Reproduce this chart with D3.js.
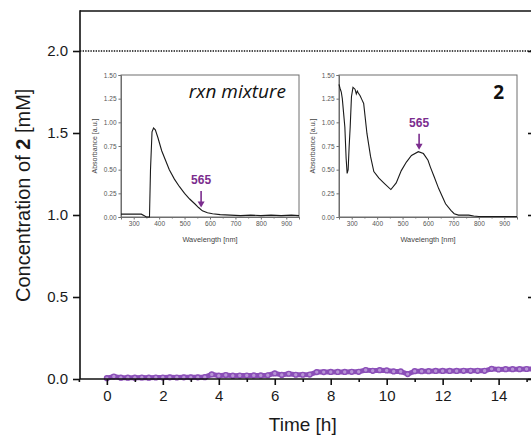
<!DOCTYPE html>
<html>
<head>
<meta charset="utf-8">
<script src="https://cdn.jsdelivr.net/npm/d3@7"></script>
<style>
  html, body { margin: 0; padding: 0; background: #fff; }
  svg { display: block; }
</style>
</head>
<body>
<svg id="chart" width="531" height="437"></svg>
<script>
// ---------- main series: concentration of 2 vs time ----------
const timeH = [0, 0.25, 0.5, 0.75, 1, 1.25, 1.5, 1.75, 2, 2.25, 2.5, 2.75, 3, 3.25, 3.5, 3.75,
  4, 4.25, 4.5, 4.75, 5, 5.25, 5.5, 5.75, 6, 6.25, 6.5, 6.75, 7, 7.25, 7.5, 7.75,
  8, 8.25, 8.5, 8.75, 9, 9.25, 9.5, 9.75, 10, 10.25, 10.5, 10.75, 11, 11.25, 11.5, 11.75,
  12, 12.25, 12.5, 12.75, 13, 13.25, 13.5, 13.75, 14, 14.25, 14.5, 14.75, 15, 15.25];
const concMM = [0.005, 0.015, 0.008, 0.008, 0.008, 0.009, 0.008, 0.009, 0.009, 0.010, 0.009, 0.010, 0.010, 0.010, 0.011, 0.028,
  0.020, 0.024, 0.020, 0.021, 0.021, 0.022, 0.022, 0.023, 0.034, 0.025, 0.032, 0.026, 0.026, 0.027, 0.042, 0.042,
  0.043, 0.043, 0.043, 0.044, 0.044, 0.055, 0.050, 0.054, 0.052, 0.046, 0.046, 0.030, 0.048, 0.048, 0.048, 0.049,
  0.049, 0.049, 0.049, 0.050, 0.050, 0.050, 0.050, 0.062, 0.058, 0.060, 0.060, 0.060, 0.061, 0.061];
const xTicks = [0, 2, 4, 6, 8, 10, 12, 14];
const xMinorTicks = [-1, 1, 3, 5, 7, 9, 11, 13, 15];
const yTicks = [0.0, 0.5, 1.0, 1.5, 2.0];
const maxConc = 2.0;

// ---------- inset spectra ----------
const wlMix = [250, 300, 330, 340, 350, 362, 366, 372, 378, 385, 395, 410, 425, 440, 460, 480, 500, 520, 540, 555, 570, 590, 610, 640, 680, 720, 760, 800, 840, 880, 920, 950];
const absMix = [0.03, 0.03, 0.03, 0.015, 0.0, 0.0, 0.5, 0.9, 0.94, 0.92, 0.84, 0.70, 0.60, 0.50, 0.40, 0.32, 0.25, 0.19, 0.14, 0.10, 0.065, 0.045, 0.035, 0.025, 0.02, 0.015, 0.02, 0.015, 0.02, 0.015, 0.02, 0.015];
const wl2 = [250, 254, 259, 263, 268, 273, 278, 282, 286, 290, 294, 299, 305, 313, 318, 322, 326, 333, 340, 347, 360, 374, 387, 407, 430, 454, 475, 495, 515, 535, 562, 582, 600, 609, 625, 642, 669, 690, 703, 720, 760, 780, 800, 850, 900, 950];
const abs2 = [1.40, 1.36, 1.32, 1.25, 1.10, 0.95, 0.62, 0.46, 0.50, 0.75, 0.95, 1.27, 1.37, 1.35, 1.30, 1.33, 1.31, 1.28, 1.24, 1.20, 0.88, 0.64, 0.48, 0.41, 0.35, 0.29, 0.36, 0.49, 0.58, 0.65, 0.69, 0.67, 0.60, 0.53, 0.42, 0.30, 0.14, 0.07, 0.035, 0.02, 0.02, 0.01, 0.006, 0.005, 0.005, 0.005];
const insetXTicks = [300, 400, 500, 600, 700, 800, 900];
const insetXMinor = [350, 450, 550, 650, 750, 850];
const insetYTicks = [0.00, 0.25, 0.50, 0.75, 1.00, 1.25, 1.50];
const insetTitles = ["rxn mixture", "2"];
const markWl = 565;
const markLabel = "565";
const markTip = [0.10, 0.71];      // absorbance where the arrow ends
const markTail = [0.275, 0.88];    // absorbance where the arrow starts

// ---------- drawing ----------
const svg = d3.select("#chart");
const W = 531, H = 437;
const purple = "#8b4fb8";
const markPurple = "#7b2d8e";
const axisFont = "'Liberation Sans', Arial, sans-serif";

const x = d3.scaleLinear().domain([-0.96, 15.3]).range([80, 535]);
const y = d3.scaleLinear().domain([0, 2.25]).range([379, 10]);

const main = svg.append("g");

// dotted max line
main.append("line")
  .attr("x1", x(-0.96)).attr("x2", W)
  .attr("y1", y(maxConc)).attr("y2", y(maxConc))
  .attr("stroke", "#111").attr("stroke-width", 1.4)
  .attr("stroke-dasharray", "1.4,1.2");

// data series (drawn under the axes)
const series = timeH.map((t, i) => ({ t, c: concMM[i] }));
main.append("path").datum(series)
  .attr("fill", "none").attr("stroke", purple).attr("stroke-width", 5)
  .attr("d", d3.line().x(d => x(d.t)).y(d => y(d.c)));
main.append("g").selectAll("circle").data(series).join("circle")
  .attr("cx", d => x(d.t)).attr("cy", d => y(d.c)).attr("r", 2.4)
  .attr("fill", "#b894d6").attr("stroke", purple).attr("stroke-width", 1.4);

// left axis
const yAxis = d3.axisLeft(y).tickValues(yTicks).tickFormat(d3.format(".1f")).tickSize(7).tickPadding(5);
const gy = main.append("g").attr("transform", `translate(${x(-0.96)},0)`).call(yAxis);
// right axis (inward ticks, line off-screen)
const gyR = main.append("g").attr("transform", `translate(${x(15.3)},0)`)
  .call(d3.axisLeft(y).tickValues(yTicks).tickFormat("").tickSize(7));
// bottom axis
const xAxis = d3.axisBottom(x).tickValues(xTicks).tickFormat(d3.format("d")).tickSize(6).tickPadding(5);
const gx = main.append("g").attr("transform", `translate(0,${y(0)})`).call(xAxis);
const gxm = main.append("g").attr("transform", `translate(0,${y(0)})`)
  .call(d3.axisBottom(x).tickValues(xMinorTicks).tickFormat("").tickSize(3));
// top line
main.append("line").attr("x1", x(-0.96)).attr("x2", W + 10)
  .attr("y1", y(2.25) + 1).attr("y2", y(2.25) + 1)
  .attr("stroke", "#111").attr("stroke-width", 1.6);

[gy, gyR, gx, gxm].forEach(g => {
  g.select(".domain").attr("stroke", "#111").attr("stroke-width", 1.6);
  g.selectAll(".tick line").attr("stroke", "#111").attr("stroke-width", 1.6);
  g.selectAll(".tick text").attr("fill", "#1a1a1a").style("font-family", axisFont).style("font-size", "15px");
});
gx.select(".domain").attr("d", `M${x(-0.96)},0H${W + 10}`);
gxm.select(".domain").remove();
gyR.select(".domain").remove();
gy.select(".domain").attr("d", `M0,${y(2.25) + 0.2}V${y(0)}`);

// axis titles
main.append("text")
  .attr("x", x(7)).attr("y", 431)
  .attr("text-anchor", "middle")
  .style("font-family", axisFont).style("font-size", "19px").attr("fill", "#1a1a1a")
  .text("Time [h]");
const yt = main.append("text")
  .attr("transform", `translate(30,${y(1.12)}) rotate(-90)`)
  .attr("text-anchor", "middle")
  .style("font-family", axisFont).style("font-size", "20px").attr("fill", "#1a1a1a");
yt.append("tspan").text("Concentration of ");
yt.append("tspan").style("font-weight", "bold").text("2");
yt.append("tspan").text(" [mM]");

// ---------- insets ----------
function drawInset(x0, y0, w, h, wl, ab, idx) {
  const g = svg.append("g");
  const ix = d3.scaleLinear().domain([250, 950]).range([x0, x0 + w]);
  const iy = d3.scaleLinear().domain([0, 1.5]).range([y0 + h, y0]);
  g.append("rect").attr("x", x0).attr("y", y0).attr("width", w).attr("height", h)
    .attr("fill", "#fff").attr("stroke", "#6e6e6e").attr("stroke-width", 1);
  const ax = g.append("g").attr("transform", `translate(0,${y0 + h})`)
    .call(d3.axisBottom(ix).tickValues(insetXTicks).tickSize(2.5).tickPadding(2));
  const axm = g.append("g").attr("transform", `translate(0,${y0 + h})`)
    .call(d3.axisBottom(ix).tickValues(insetXMinor).tickFormat("").tickSize(1.5));
  const ay = g.append("g").attr("transform", `translate(${x0},0)`)
    .call(d3.axisLeft(iy).tickValues(insetYTicks).tickFormat(d3.format(".2f")).tickSize(2.5).tickPadding(2));
  [ax, axm, ay].forEach(a => {
    a.select(".domain").attr("stroke", "#6e6e6e");
    a.selectAll(".tick line").attr("stroke", "#6e6e6e");
    a.selectAll(".tick text").attr("fill", "#555").style("font-family", axisFont).style("font-size", "6.5px");
  });
  g.append("text").attr("x", x0 + w / 2).attr("y", y0 + h + 25)
    .attr("text-anchor", "middle").attr("fill", "#444")
    .style("font-family", axisFont).style("font-size", "7.4px").text("Wavelength [nm]");
  g.append("text").attr("transform", `translate(${x0 - 24},${y0 + h / 2}) rotate(-90)`)
    .attr("text-anchor", "middle").attr("fill", "#444")
    .style("font-family", axisFont).style("font-size", "7px").text("Absorbance [a.u.]");
  const pts = wl.map((v, i) => [v, ab[i]]);
  g.append("path").datum(pts).attr("fill", "none").attr("stroke", "#1a1a1a").attr("stroke-width", 1.1)
    .attr("d", d3.line().x(d => ix(d[0])).y(d => iy(d[1])));
  // 565 marker
  const mx = ix(markWl);
  const tail = iy(markTail[idx]), tip = iy(markTip[idx]);
  g.append("line").attr("x1", mx).attr("x2", mx).attr("y1", tail).attr("y2", tip - 5)
    .attr("stroke", markPurple).attr("stroke-width", 1.6);
  g.append("path").attr("d", `M${mx - 3.5},${tip - 6}L${mx + 3.5},${tip - 6}L${mx},${tip}Z`).attr("fill", markPurple);
  g.append("text").attr("x", mx).attr("y", tail - 6.5).attr("text-anchor", "middle")
    .attr("fill", markPurple).style("font-family", axisFont).style("font-size", "12px").style("font-weight", "bold")
    .text(markLabel);
  return g;
}
const g1 = drawInset(121, 75, 178, 142, wlMix, absMix, 0);
const g2 = drawInset(339, 75, 178, 142, wl2, abs2, 1);
g1.append("text").attr("x", 286).attr("y", 98).attr("text-anchor", "end")
  .style("font-family", "'Open Sans', sans-serif").style("font-style", "italic").style("font-size", "19px")
  .attr("fill", "#111").text(insetTitles[0]);
g2.append("text").attr("x", 504).attr("y", 99).attr("text-anchor", "end")
  .style("font-family", "'Open Sans', sans-serif").style("font-weight", "bold").style("font-size", "19px")
  .attr("fill", "#111").text(insetTitles[1]);
</script>
</body>
</html>
